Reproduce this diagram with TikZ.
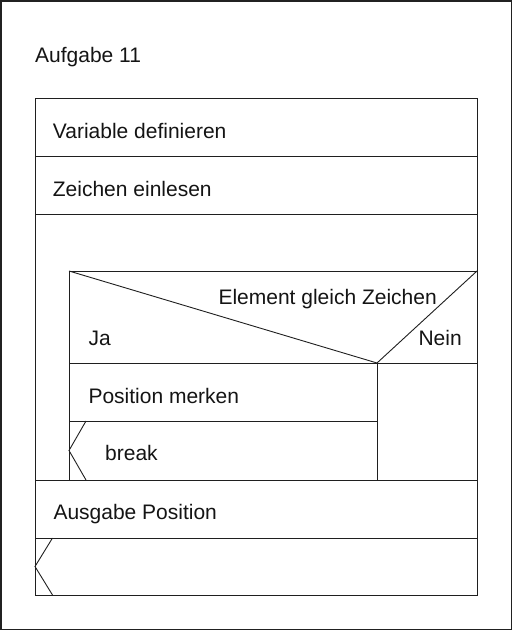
\documentclass[tikz,border=0pt]{standalone}
\usepackage{fontspec}
\setmainfont{Liberation Sans}
\begin{document}
\begin{tikzpicture}[x=1pt,y=-1pt,
  ln/.style={draw=black!88,line width=0.9pt},
  lbl/.style={anchor=base west,inner sep=0pt,text=black!92,font=\fontsize{21}{25}\selectfont}]
\useasboundingbox (0,0) rectangle (513,631);
% outer frame
\draw[draw=black!87,line width=1.1pt] (1,1) rectangle (511.5,629.5);
% main structogram
\draw[ln] (35,98) rectangle (477,595);
\draw[ln] (35,156) -- (477,156);
\draw[ln] (35,214) -- (477,214);
% loop body
\draw[ln] (69,271) -- (477,271);
\draw[ln] (69,271) -- (69,480);
\draw[ln] (35,480) -- (477,480);
% if block
\draw[ln] (69,363) -- (477,363);
\draw[ln] (69,271) -- (377,363) -- (477,271);
\draw[ln] (377,363) -- (377,480);
\draw[ln] (69,421) -- (377,421);
% break chevron
\draw[ln] (86,421) -- (69,450.5) -- (86,480);
% bottom break
\draw[ln] (35,538) -- (477,538);
\draw[ln] (52.5,538) -- (35,566.5) -- (52.5,595);
% texts
\node[lbl] (title) at (35,62.7) {Aufgabe 11};
\node[lbl] (var) at (52.7,138.3) {Variable definieren};
\node[lbl] (read) at (52.7,196.7) {Zeichen einlesen};
\node[lbl] (cond) at (218.3,304) {Element gleich Zeichen};
\node[lbl] (ja) at (88.3,345) {Ja};
\node[lbl] (nein) at (418.3,345) {Nein};
\node[lbl] (pos) at (88.3,403.3) {Position merken};
\node[lbl] (brk) at (105,460.7) {break};
\node[lbl] (out) at (53.3,519) {Ausgabe Position};
\end{tikzpicture}
\end{document}
